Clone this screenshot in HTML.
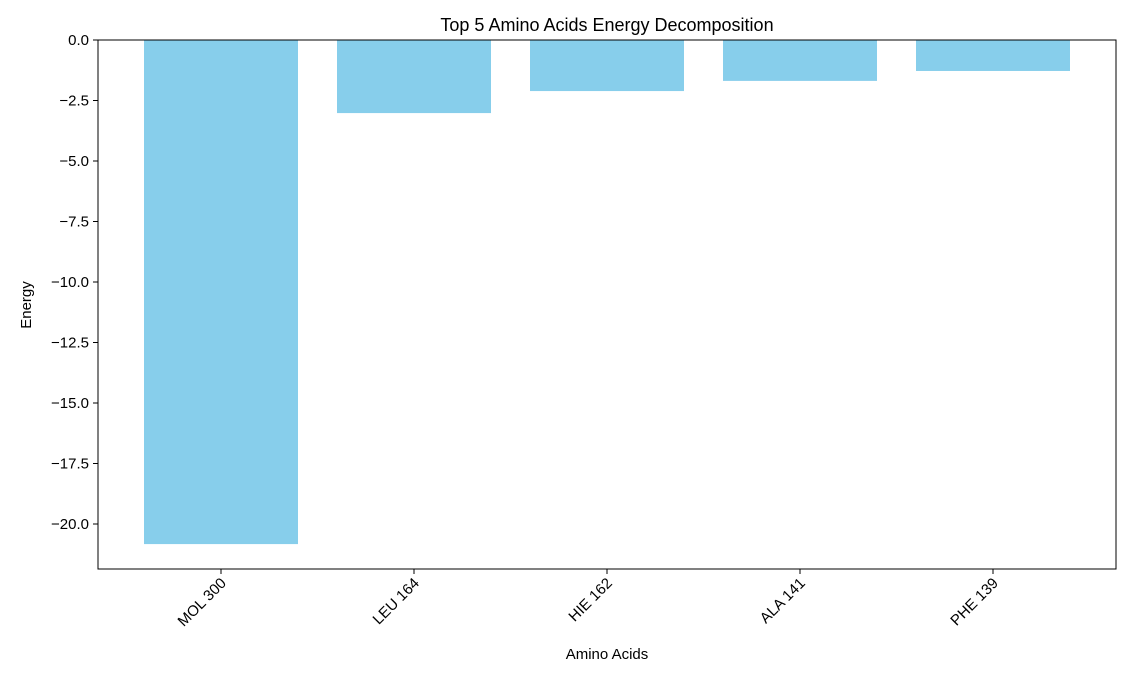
<!DOCTYPE html>
<html><head><meta charset="utf-8"><style>
body{margin:0;background:#fff;}
svg{display:block;font-family:"Liberation Sans","DejaVu Sans",sans-serif;}
</style></head><body>
<svg id="chart" width="1133" height="680">
<text x="607" y="31" text-anchor="middle" font-size="18">Top 5 Amino Acids Energy Decomposition</text>
<g id="bars"></g>
<g id="yticks"></g>
<g id="xticks"></g>
<rect x="98" y="40" width="1018" height="529" fill="none" stroke="#000" stroke-width="1"/>
<text x="607" y="659" text-anchor="middle" font-size="15">Amino Acids</text>
<text transform="translate(31,305) rotate(-90)" text-anchor="middle" font-size="15">Energy</text>
</svg>
<script>
const categories = ["MOL 300","LEU 164","HIE 162","ALA 141","PHE 139"];
const energies = [-20.83,-3.02,-2.11,-1.69,-1.28];
const yTickValues = [0,-2.5,-5,-7.5,-10,-12.5,-15,-17.5,-20];
const yTickLabels = ["0.0","\u22122.5","\u22125.0","\u22127.5","\u221210.0","\u221212.5","\u221215.0","\u221217.5","\u221220.0"];

const NS="http://www.w3.org/2000/svg";
const plotTop=40, ppu=24.2, plotLeft=98, x0=221, step=193, bw=154;
const yS = v => plotTop - v*ppu;
const xS = i => x0 + i*step;
function mk(tag, attrs){const e=document.createElementNS(NS,tag);for(const k in attrs)e.setAttribute(k,attrs[k]);return e;}
const gb=document.getElementById('bars'), gy=document.getElementById('yticks'), gx=document.getElementById('xticks');
energies.forEach((v,i)=>{
  const r=mk('rect',{x:xS(i)-bw/2,y:Math.min(yS(0),yS(v)),width:bw,height:Math.abs(yS(v)-yS(0)),fill:'#87ceeb'});
  
  
  gb.appendChild(r);
});
yTickValues.forEach((v,i)=>{
  const l=mk('line',{x1:plotLeft-5,x2:plotLeft,y1:yS(v),y2:yS(v),stroke:'#000'});
  
  
  gy.appendChild(l);
  const t=mk('text',{x:plotLeft-9,y:yS(v)+5,'text-anchor':'end','font-size':'15'});
  
  
  t.textContent=yTickLabels[i];gy.appendChild(t);
});
categories.forEach((c,i)=>{
  const l=mk('line',{x1:xS(i),x2:xS(i),y1:569,y2:574,stroke:'#000'});
  
  
  gx.appendChild(l);
  const t=mk('text',{transform:`translate(${xS(i)+6},584) rotate(-45)`,'text-anchor':'end','font-size':'15'});
  
  
  t.textContent=c;gx.appendChild(t);
});
</script>
</body></html>
